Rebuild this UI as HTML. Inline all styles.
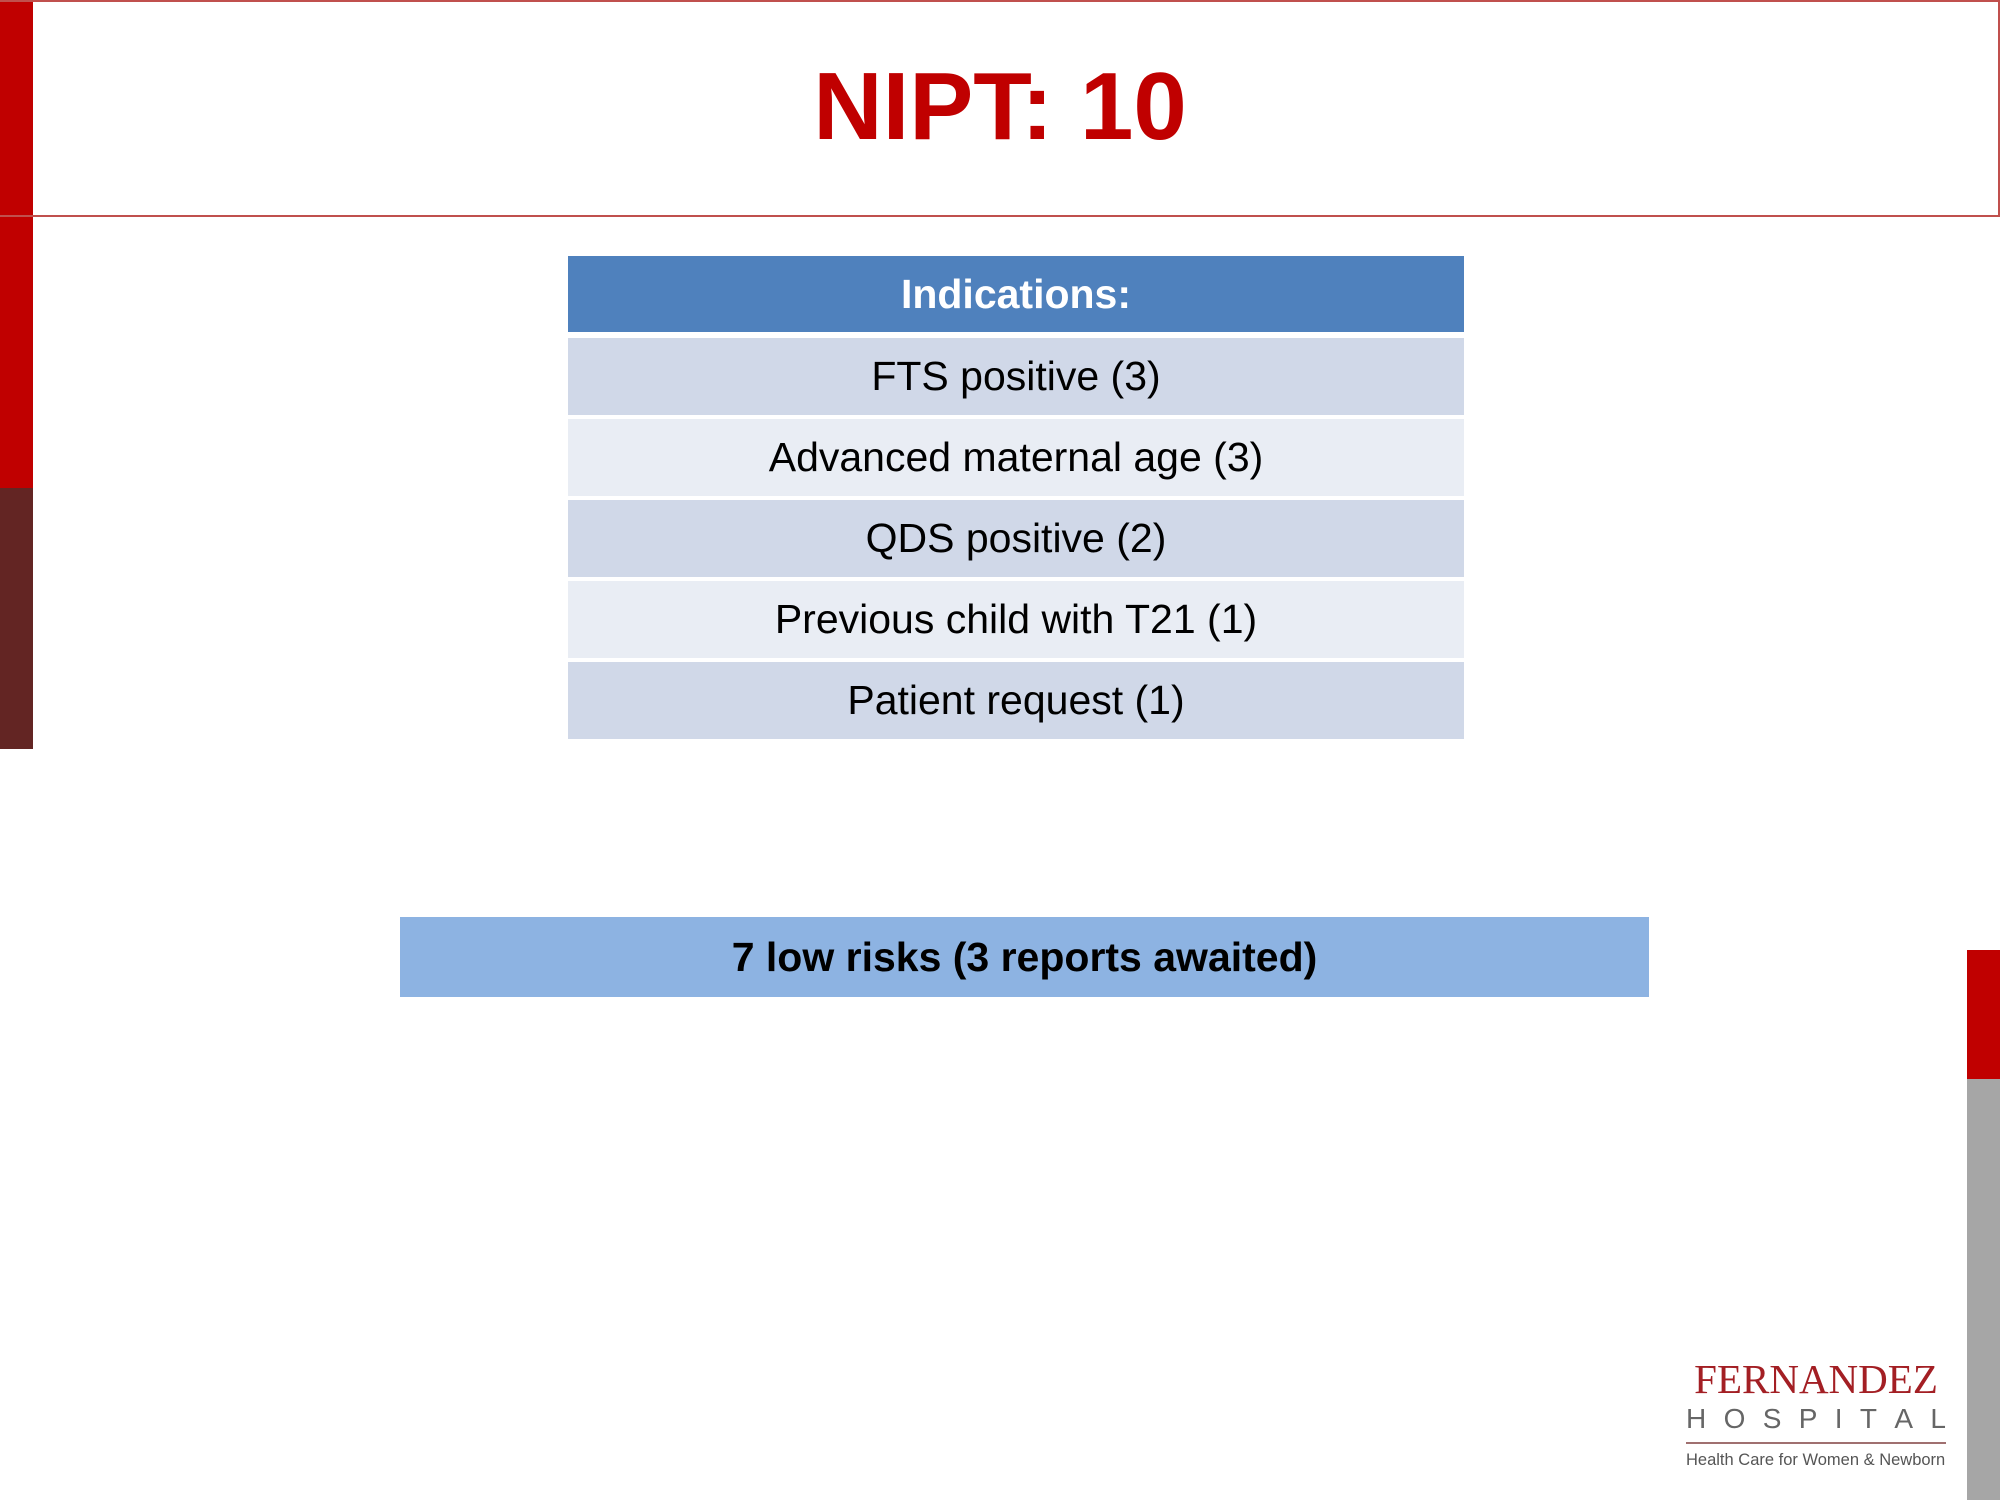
<!DOCTYPE html>
<html><head><meta charset="utf-8"><style>
*{margin:0;padding:0;box-sizing:border-box}
body{width:2000px;height:1500px;position:relative;background:#fff;font-family:"Liberation Sans",sans-serif;overflow:hidden}
.abs{position:absolute}
.row{position:absolute;left:568px;width:896px;height:77px;display:flex;align-items:center;justify-content:center;font-size:41px;color:#000}
</style></head><body>
<div class="abs" style="left:0;top:0;width:33px;height:488px;background:#c00000"></div>
<div class="abs" style="left:0;top:488px;width:33px;height:261px;background:#632523"></div>
<div class="abs" style="left:0;top:0;width:2000px;height:217px;border:2px solid #c0504d;border-left:none"></div>
<div class="abs" style="left:0;top:52px;width:2000px;text-align:center;font-size:96px;font-weight:bold;color:#c00000;line-height:110px">NIPT: 10</div>
<div class="abs" style="left:0;top:0">
<div class="row" style="top:256px;height:76px;background:#4f81bd;color:#fff;font-weight:bold;font-size:41px">Indications:</div>
<div class="row" style="top:338px;background:#d0d8e8">FTS positive (3)</div>
<div class="row" style="top:419px;background:#e9edf4">Advanced maternal age (3)</div>
<div class="row" style="top:500px;background:#d0d8e8">QDS positive (2)</div>
<div class="row" style="top:581px;background:#e9edf4">Previous child with T21 (1)</div>
<div class="row" style="top:662px;background:#d0d8e8">Patient request (1)</div>
</div>
<div class="abs" style="left:400px;top:917px;width:1249px;height:80px;background:#8db3e2;display:flex;align-items:center;justify-content:center;font-size:41px;font-weight:bold;color:#000">7 low risks (3 reports awaited)</div>
<div class="abs" style="left:1967px;top:950px;width:33px;height:129px;background:#c00000"></div>
<div class="abs" style="left:1967px;top:1079px;width:33px;height:421px;background:#a6a6a6"></div>
<div class="abs" style="left:1686px;top:0;width:260px;height:1500px">
<div class="abs" style="left:0;top:1358px;width:260px;font-family:'Liberation Serif',serif;font-size:41px;color:#a31f24;line-height:42px;text-align:center;white-space:nowrap">FERNANDEZ</div>
<div class="abs" style="left:0;top:1403px;width:260px;font-size:28px;color:#666;line-height:32px;display:flex;justify-content:space-between"><span>H</span><span>O</span><span>S</span><span>P</span><span>I</span><span>T</span><span>A</span><span>L</span></div>
<div class="abs" style="left:0;top:1442px;width:260px;height:2px;background:#a07070"></div>
<div class="abs" style="left:0;top:1449px;font-size:16.5px;color:#555;line-height:22px;white-space:nowrap">Health Care for Women &amp; Newborn</div>
</div>
</body></html>
